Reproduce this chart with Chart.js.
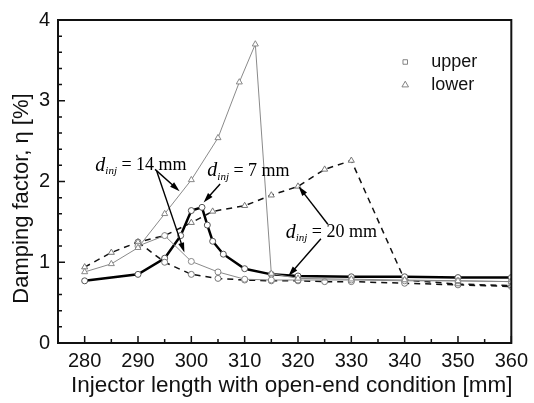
<!DOCTYPE html>
<html>
<head>
<meta charset="utf-8">
<script src="https://cdn.jsdelivr.net/npm/chart.js@4.4.0/dist/chart.umd.min.js"></script>
<style>
  html, body { margin: 0; padding: 0; background: #fff; }
</style>
</head>
<body>
<canvas id="damping" width="534" height="403"></canvas>
<script>
// injector length [mm] and damping factor [%]
var xThin14Lower = [280, 285, 290, 295, 300, 305, 309, 312, 315, 320, 330, 340, 350, 360];
var yThin14Lower = [0.88, 0.98, 1.18, 1.6, 2.02, 2.54, 3.23, 3.7, 0.86, 0.8, 0.79, 0.78, 0.77, 0.76];

var xThin14Upper = [290, 295, 300, 305, 310, 315, 320, 330, 340, 350, 360];
var yThin14Upper = [1.2, 1.33, 1.01, 0.88, 0.79, 0.78, 0.78, 0.78, 0.77, 0.77, 0.76];

var xThick7 = [280, 290, 295, 298, 300, 302, 303, 304, 306, 310, 315, 320, 330, 340, 350, 360];
var yThick7 = [0.77, 0.85, 1.05, 1.33, 1.64, 1.68, 1.46, 1.26, 1.1, 0.92, 0.85, 0.83, 0.82, 0.82, 0.81, 0.81];

var xDash20Lower = [280, 285, 290, 295, 300, 304, 310, 315, 320, 325, 330, 340, 350, 360];
var yDash20Lower = [0.94, 1.12, 1.25, 1.33, 1.49, 1.63, 1.7, 1.83, 1.94, 2.15, 2.26, 0.78, 0.73, 0.71];

var xDash20Upper = [290, 295, 300, 305, 310, 315, 320, 325, 330, 340, 350, 360];
var yDash20Upper = [1.25, 1.0, 0.85, 0.8, 0.78, 0.77, 0.77, 0.76, 0.76, 0.74, 0.72, 0.7];

var xTickValues = [280, 290, 300, 310, 320, 330, 340, 350, 360];
var yTickValues = [0, 1, 2, 3, 4];

var xTitle = 'Injector length with open-end condition [mm]';
var yTitle = 'Damping factor, \u03b7 [%]';
var legendNames = ['upper', 'lower'];

// d_inj labels: value, text anchor, arrow start -> arrow tip (data units)
var notes = [
	{ d: '14', at: [282, 2.2], arrows: [[293.2, 2.15, 297.8, 1.88], [293.5, 2.13, 298.7, 1.12]] },
	{ d: '7', at: [303, 2.13], arrows: [[305.4, 1.97, 302.3, 1.74]] },
	{ d: '20', at: [317.7, 1.37], arrows: [[325.6, 1.47, 320.1, 1.94], [324.3, 1.29, 318.2, 0.83]] }
];

function pts(xs, ys) {
	var out = [];
	for (var i = 0; i < xs.length; i++) {
		out.push({ x: xs[i], y: ys[i] });
	}
	return out;
}

var sans = '"Liberation Sans", Arial, Helvetica, sans-serif';
var serif = '"Liberation Serif", "Times New Roman", serif';

function series(label, xs, ys, style) {
	return {
		label: label,
		data: pts(xs, ys),
		borderColor: style.color,
		borderWidth: style.width,
		borderDash: style.dash || [],
		pointStyle: style.marker,
		pointRadius: style.marker === 'triangle' ? 3.5 : 3,
		pointBackgroundColor: '#fff',
		pointBorderColor: style.markerColor,
		pointBorderWidth: 1,
		tension: 0,
		fill: false
	};
}

var decor = {
	id: 'decor',
	afterDatasetsDraw: function(c) {
		var ctx = c.ctx, a = c.chartArea, xs = c.scales.x, ys = c.scales.y;
		ctx.save();

		// inward tick marks
		ctx.strokeStyle = '#111';
		ctx.lineWidth = 1.5;
		ctx.beginPath();
		for (var v = 280; v <= 360; v += 5) {
			var px = xs.getPixelForValue(v);
			var len = (v % 10 === 0) ? 7 : 4;
			ctx.moveTo(px, a.bottom);
			ctx.lineTo(px, a.bottom - len);
		}
		for (var k = 1; k < 20; k++) {
			var py = ys.getPixelForValue(k * 0.2);
			var ylen = (k % 5 === 0) ? 7 : 4;
			ctx.moveTo(a.left, py);
			ctx.lineTo(a.left + ylen, py);
		}
		ctx.stroke();

		// frame
		ctx.lineWidth = 2;
		ctx.strokeRect(a.left, a.top, a.right - a.left, a.bottom - a.top);

		// axis titles
		ctx.fillStyle = '#111';
		ctx.textAlign = 'center';
		ctx.textBaseline = 'middle';
		ctx.font = '22.5px ' + sans;
		ctx.fillText(xTitle, (a.left + a.right) / 2 + 7, 386);
		ctx.save();
		ctx.translate(22, (a.top + a.bottom) / 2 + 17);
		ctx.rotate(-Math.PI / 2);
		ctx.font = '22px ' + sans;
		ctx.fillText(yTitle, 0, 0);
		ctx.restore();

		// legend
		var lx = a.left + (a.right - a.left) * 0.766;
		var ly = a.top + 42;
		for (var i = 0; i < legendNames.length; i++) {
			ctx.fillStyle = '#fff';
			ctx.strokeStyle = '#777';
			ctx.lineWidth = 0.9;
			Chart.helpers.drawPoint(ctx, {
				pointStyle: i === 0 ? 'rect' : 'triangle',
				radius: i === 0 ? 3.2 : 3.8,
				borderWidth: 0.9
			}, lx, ly + i * 23);
			ctx.fillStyle = '#111';
			ctx.font = '18px ' + sans;
			ctx.textBaseline = 'middle';
			ctx.textAlign = 'left';
			ctx.fillText(legendNames[i], lx + 26, ly + i * 23);
		}

		// d_inj labels and arrows
		ctx.strokeStyle = '#000';
		ctx.fillStyle = '#000';
		ctx.textAlign = 'left';
		notes.forEach(function(n) {
			var tx = xs.getPixelForValue(n.at[0]);
			var ty = ys.getPixelForValue(n.at[1]);
			ctx.textBaseline = 'middle';
			ctx.font = 'italic 20px ' + serif;
			ctx.fillText('d', tx, ty);
			var w = ctx.measureText('d').width;
			ctx.font = 'italic 11px ' + serif;
			ctx.fillText('inj', tx + w, ty + 6);
			var w2 = ctx.measureText('inj').width;
			ctx.font = '18px ' + serif;
			ctx.fillText(' = ' + n.d + ' mm', tx + w + w2, ty);

			n.arrows.forEach(function(ar) {
				var x1 = xs.getPixelForValue(ar[0]), y1 = ys.getPixelForValue(ar[1]);
				var x2 = xs.getPixelForValue(ar[2]), y2 = ys.getPixelForValue(ar[3]);
				var ang = Math.atan2(y2 - y1, x2 - x1);
				ctx.lineWidth = 1.4;
				ctx.beginPath();
				ctx.moveTo(x1, y1);
				ctx.lineTo(x2 - 6 * Math.cos(ang), y2 - 6 * Math.sin(ang));
				ctx.stroke();
				ctx.beginPath();
				ctx.moveTo(x2, y2);
				ctx.lineTo(x2 - 10 * Math.cos(ang) + 3 * Math.sin(ang), y2 - 10 * Math.sin(ang) - 3 * Math.cos(ang));
				ctx.lineTo(x2 - 10 * Math.cos(ang) - 3 * Math.sin(ang), y2 - 10 * Math.sin(ang) + 3 * Math.cos(ang));
				ctx.closePath();
				ctx.fill();
			});
		});
		ctx.restore();
	}
};

new Chart(document.getElementById('damping').getContext('2d'), {
	type: 'line',
	data: {
		datasets: [
			series('dinj 14 mm lower', xThin14Lower, yThin14Lower, { color: '#8a8a8a', width: 1, marker: 'triangle', markerColor: '#888' }),
			series('dinj 14 mm upper', xThin14Upper, yThin14Upper, { color: '#8a8a8a', width: 1, marker: 'circle', markerColor: '#888' }),
			series('dinj 20 mm lower', xDash20Lower, yDash20Lower, { color: '#111', width: 1.5, dash: [6, 5], marker: 'triangle', markerColor: '#777' }),
			series('dinj 20 mm upper', xDash20Upper, yDash20Upper, { color: '#111', width: 1.5, dash: [6, 5], marker: 'circle', markerColor: '#777' }),
			series('dinj 7 mm', xThick7, yThick7, { color: '#000', width: 2.5, marker: 'circle', markerColor: '#555' })
		]
	},
	options: {
		responsive: false,
		animation: false,
		layout: { padding: { top: 14, right: 19, left: 0, bottom: 0 } },
		plugins: {
			legend: { display: false },
			tooltip: { enabled: false }
		},
		scales: {
			x: {
				type: 'linear',
				min: 275,
				max: 360,
				afterBuildTicks: function(s) {
					s.ticks = xTickValues.map(function(v) { return { value: v }; });
				},
				afterFit: function(s) { s.height = 60; },
				grid: { display: false, drawTicks: false },
				border: { display: false },
				ticks: {
					padding: 6,
					maxRotation: 0,
					color: '#111',
					font: { family: sans, size: 20 }
				}
			},
			y: {
				min: 0,
				max: 4,
				afterBuildTicks: function(s) {
					s.ticks = yTickValues.map(function(v) { return { value: v }; });
				},
				afterFit: function(s) { s.width = 58; },
				grid: { display: false, drawTicks: false },
				border: { display: false },
				ticks: {
					padding: 8,
					color: '#111',
					font: { family: sans, size: 20 }
				}
			}
		}
	},
	plugins: [decor]
});
</script>
</body>
</html>
